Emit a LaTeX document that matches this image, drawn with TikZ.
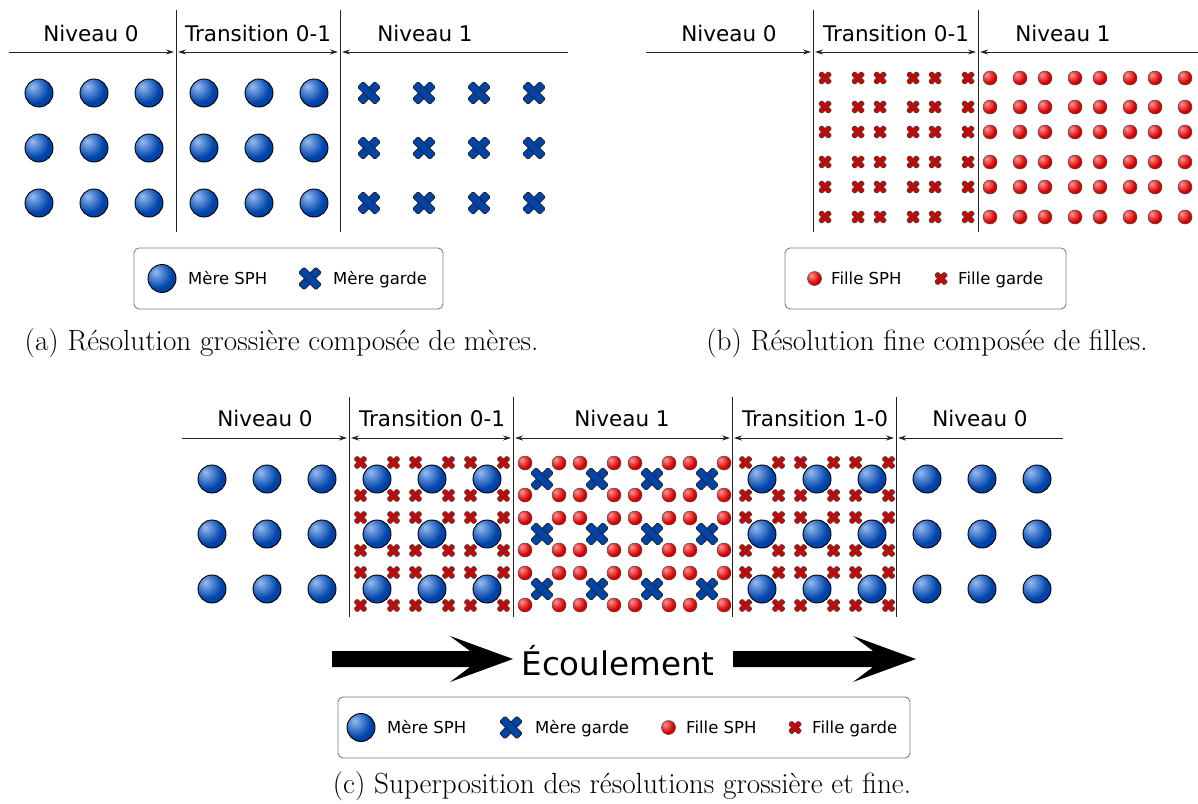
\documentclass[tikz,border=0pt]{standalone}
\usepackage{fontspec}
\newfontfamily\dejavu{DejaVu Sans}
\usetikzlibrary{arrows.meta}
\definecolor{mereblue}{RGB}{0,68,170}
\definecolor{merelight}{RGB}{150,188,242}
\definecolor{meredark}{RGB}{0,48,140}
\definecolor{filleroug}{RGB}{214,0,0}
\definecolor{fillelight}{RGB}{255,150,150}
\definecolor{filledark}{RGB}{168,0,0}
\definecolor{darkline}{RGB}{35,35,35}
\definecolor{boxgray}{RGB}{125,125,125}
\pgfdeclareradialshading{spheremere}{\pgfpoint{-12bp}{12bp}}{color(0bp)=(merelight); color(26bp)=(mereblue); color(58bp)=(meredark); color(100bp)=(meredark)}
\pgfdeclareradialshading{spherefille}{\pgfpoint{-12bp}{12bp}}{color(0bp)=(fillelight); color(26bp)=(filleroug); color(58bp)=(filledark); color(100bp)=(filledark)}

\begin{document}
\begin{tikzpicture}[x=1pt,y=-1pt,
    >={Stealth[length=8pt,width=5pt]},
    mere/.style={circle,draw=black,line width=0.9pt,shading=spheremere,
                 minimum size=28pt,inner sep=0pt},
    fille/.style={circle,draw=black!70,line width=0.5pt,shading=spherefille,
                  minimum size=14pt,inner sep=0pt},
    merecroix/.pic={
      \foreach \r in {45,-45}
        \draw[rotate=\r,fill=mereblue,draw=black!85,line width=0.8pt,
              rounded corners=1.5pt] (-12.3,-4) rectangle (12.3,4);},
    fillecroix/.pic={
      \foreach \r in {45,-45}
        \draw[rotate=\r,fill=filleroug,draw=black!75,line width=0.6pt,
              rounded corners=1pt] (-7,-2.4) rectangle (7,2.4);},
    dim/.style={darkline,line width=0.9pt},
    sep/.style={darkline,line width=1pt},
    legende/.style={draw=boxgray,line width=0.9pt,rounded corners=5pt},
    lab/.style={font=\dejavu\fontsize{21.5}{24}\selectfont,anchor=base,inner sep=0pt},
    leg/.style={font=\dejavu\fontsize{16.5}{19}\selectfont,anchor=base west,inner sep=0pt},
    legende texte/.style={font=\fontsize{29.2}{34}\selectfont,anchor=base,inner sep=0pt}]
  \useasboundingbox (0,0) rectangle (1198,803);

  % (a) resolution grossiere
  \foreach \k in {0,...,5}
    \foreach \j/\y in {1/93,2/148,3/203}
      \node[mere] (am\k\j) at (39+55*\k,\y) {};
  \foreach \k in {6,...,9}
    \foreach \y in {93,148,203}
      \pic at (39+55*\k,\y) {merecroix};
  \foreach \x in {176,340}
    \draw[sep] (\x,10) -- (\x,232);
  \coordinate (a0) at (9,52);
  \coordinate (a1) at (176,52);
  \coordinate (a2) at (340,52);
  \coordinate (a3) at (568,52);
  \draw[dim,->] (a0) -- ([xshift=-2pt]a1);
  \draw[dim,<->] ([xshift=2pt]a1) -- ([xshift=-2pt]a2);
  \draw[dim,<-] ([xshift=2pt]a2) -- (a3);
  \node[lab] (an0) at (91,41) {Niveau 0};
  \node[lab] (ant) at (258,41) {Transition 0-1};
  \node[lab] (an1) at (425,41) {Niveau 1};
  \draw[legende] (134,248) rectangle (443,309);
  \node[mere] (alm) at (162,278.5) {};
  \node[leg] (alms) at (188,284) {Mère SPH};
  \pic at (310,278.5) {merecroix};
  \node[leg] (almg) at (333,284) {Mère garde};
  \node[legende texte] (acap) at (281.5,350) {(a) Résolution grossière composée de mères.};

  % (b) resolution fine
  \foreach \x in {825,858,880,913,935,968}
    \foreach \y in {78,107,132,162,187,217}
      \pic at (\x,\y) {fillecroix};
  \foreach \x [count=\i] in {990,1020,1045,1075,1100,1130,1155,1185}
    \foreach \y [count=\j] in {78,107,132,162,187,217}
      \node[fille] (bf\i\j) at (\x,\y) {};
  \foreach \x in {813,978}
    \draw[sep] (\x,10) -- (\x,232);
  \coordinate (b0) at (646,52);
  \coordinate (b1) at (813,52);
  \coordinate (b2) at (978,52);
  \coordinate (b3) at (1205,52);
  \draw[dim,->] (b0) -- ([xshift=-2pt]b1);
  \draw[dim,<->] ([xshift=2pt]b1) -- ([xshift=-2pt]b2);
  \draw[dim,<-] ([xshift=2pt]b2) -- (b3);
  \node[lab] (bn0) at (729,41) {Niveau 0};
  \node[lab] (bnt) at (896,41) {Transition 0-1};
  \node[lab] (bn1) at (1063,41) {Niveau 1};
  \draw[legende] (785,248) rectangle (1066,309);
  \node[fille] (blf) at (814.5,278.5) {};
  \node[leg] (blfs) at (831,284) {Fille SPH};
  \pic at (941,278.5) {fillecroix};
  \node[leg] (blfg) at (958,284) {Fille garde};
  \node[legende texte] (bcap) at (927,350) {(b) Résolution fine composée de filles.};

  % (c) superposition
  \foreach \k in {0,1,2,13,14,15}
    \foreach \j/\y in {1/479,2/534,3/589}
      \node[mere] (cm\k\j) at (212+55*\k,\y) {};
  \foreach \k in {3,4,5,10,11,12}
    \foreach \j/\y in {1/479,2/534,3/589}{
      \foreach \dx in {-16.5,16.5}
        \foreach \dy in {-16.5,16.5}
          \pic at (212+55*\k+\dx,\y+\dy) {fillecroix};
      \node[mere] (ct\k\j) at (212+55*\k,\y) {};
    }
  \foreach \k in {6,...,9}
    \foreach \j/\y in {1/479,2/534,3/589}{
      \pic at (212+55*\k,\y) {merecroix};
      \foreach \dx/\a in {-17/g,17/d}
        \foreach \dy/\b in {-16/h,16/b}
          \node[fille] (cf\k\j\a\b) at (212+55*\k+\dx,\y+\dy) {};
    }
  \foreach \x in {349,513,732,896}
    \draw[sep] (\x,397) -- (\x,617);
  \coordinate (c0) at (182,438);
  \coordinate (c1) at (349,438);
  \coordinate (c2) at (513,438);
  \coordinate (c3) at (732,438);
  \coordinate (c4) at (896,438);
  \coordinate (c5) at (1063,438);
  \draw[dim,->] (c0) -- ([xshift=-2pt]c1);
  \foreach \g/\d in {c1/c2,c2/c3,c3/c4}
    \draw[dim,<->] ([xshift=2pt]\g) -- ([xshift=-2pt]\d);
  \draw[dim,<-] ([xshift=2pt]c4) -- (c5);
  \node[lab] (cn0) at (265,426) {Niveau 0};
  \node[lab] (ct01) at (432,426) {Transition 0-1};
  \node[lab] (cn1) at (622,426) {Niveau 1};
  \node[lab] (ct10) at (815,426) {Transition 1-0};
  \node[lab] (cn0b) at (980,426) {Niveau 0};
  % ecoulement
  \foreach \a/\b in {332/513,733/916}
    \fill (\a,651) -- (\b-43,651) -- (\b-63,636) -- (\b,659)
      -- (\b-63,682) -- (\b-43,667) -- (\a,667) -- cycle;
  \node[font=\dejavu\fontsize{32.5}{36}\selectfont,anchor=base,inner sep=0pt]
    (ecoul) at (618,675) {Écoulement};
  \draw[legende] (338,697) rectangle (910,758);
  \node[mere] (clm) at (361,727.5) {};
  \node[leg] (clms) at (387,733) {Mère SPH};
  \pic at (511,727.5) {merecroix};
  \node[leg] (clmg) at (535,733) {Mère garde};
  \node[fille] (clf) at (668.5,727.5) {};
  \node[leg] (clfs) at (686,733) {Fille SPH};
  \pic at (795,727.5) {fillecroix};
  \node[leg] (clfg) at (812,733) {Fille garde};
  \node[legende texte] (ccap) at (622,793) {(c) Superposition des résolutions grossière et fine.};
\end{tikzpicture}
\end{document}
